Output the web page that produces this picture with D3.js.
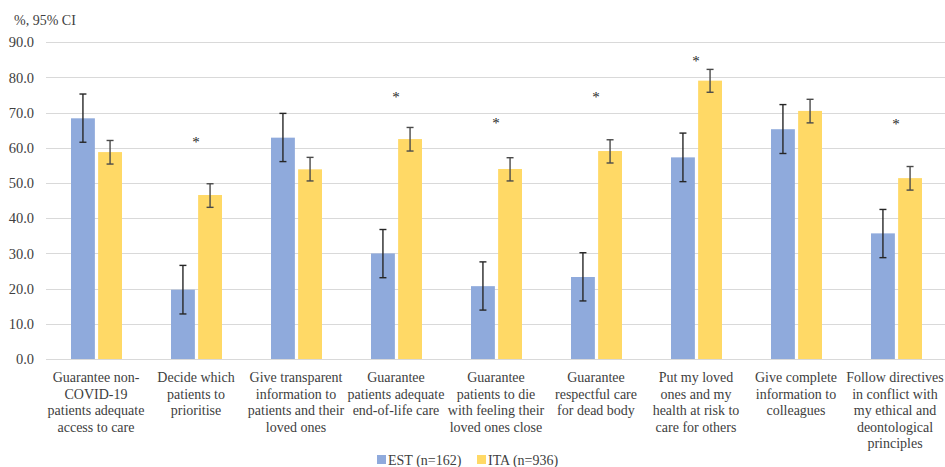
<!DOCTYPE html>
<html><head><meta charset="utf-8">
<script src="https://cdn.jsdelivr.net/npm/d3@7"></script>
<style>body{margin:0;background:#fff}svg{display:block}</style>
</head><body>
<script>
const categories = [
  ["Guarantee non-","COVID-19","patients adequate","access to care"],
  ["Decide which","patients to","prioritise"],
  ["Give transparent","information to","patients and their","loved ones"],
  ["Guarantee","patients adequate","end-of-life care"],
  ["Guarantee","patients to die","with feeling their","loved ones close"],
  ["Guarantee","respectful care","for dead body"],
  ["Put my loved","ones and my","health at risk to","care for others"],
  ["Give complete","information to","colleagues"],
  ["Follow directives","in conflict with","my ethical and","deontological","principles"]
];
const seriesNames = ["EST (n=162)", "ITA (n=936)"];
const estValues = [68.4, 19.7, 62.9, 30.0, 20.7, 23.3, 57.3, 65.3, 35.7];
const estLow    = [61.6, 12.8, 56.1, 23.1, 13.9, 16.5, 50.4, 58.4, 28.8];
const estHigh   = [75.3, 26.6, 69.8, 36.8, 27.6, 30.2, 64.2, 72.3, 42.5];
const itaValues = [58.8, 46.6, 53.9, 62.5, 54.0, 59.1, 79.1, 70.5, 51.4];
const itaLow    = [55.4, 43.1, 50.6, 59.1, 50.6, 55.7, 75.8, 67.1, 48.0];
const itaHigh   = [62.1, 49.8, 57.3, 65.8, 57.2, 62.3, 82.3, 73.8, 54.7];
const starValues = [null, 62.6, null, 75.4, 67.9, 75.4, 85.6, null, 67.7];
const yTicks = [0,10,20,30,40,50,60,70,80,90];
const yAxisTitle = "%, 95% CI";
const colors = ["#8faadc", "#ffd966"];

(function(){
const FONT = '"Liberation Serif"';
const FS = "14px";
const W = 945, H = 467;
const svg = d3.select("body").append("svg").attr("width", W).attr("height", H);
const pLeft = 46, pRight = 946, pTop = 42.3, pBottom = 359;
const y = d3.scaleLinear().domain([0, 90]).range([pBottom, pTop]);
const x = d3.scaleBand().domain(d3.range(categories.length)).range([pLeft, pRight]).paddingInner(0).paddingOuter(0);
const x1 = d3.scaleBand().domain([0,1]).range([25, 76]).paddingInner(0.12);

svg.append("g").selectAll("line").data(yTicks).join("line")
  .attr("x1", pLeft).attr("x2", pRight)
  .attr("y1", d => Math.round(y(d)) + 0.5).attr("y2", d => Math.round(y(d)) + 0.5)
  .attr("stroke", "#d9d9d9").attr("stroke-width", 1.2);

const yAxis = d3.axisLeft(y).tickValues(yTicks).tickFormat(d3.format(".1f")).tickSize(0).tickPadding(12);
const gy = svg.append("g").attr("transform", `translate(${pLeft},0)`).call(yAxis);
gy.select(".domain").remove();
gy.selectAll("text").style("font-family", FONT).style("font-size", "14.5px").style("fill", "#404040");

svg.append("text").attr("x", 14).attr("y", 25).style("font-family", FONT).style("font-size", FS).style("fill", "#404040").text(yAxisTitle);

const series = [
  {vals: estValues, lo: estLow, hi: estHigh},
  {vals: itaValues, lo: itaLow, hi: itaHigh}
];
series.forEach((s, si) => {
  const g = svg.append("g");
  g.selectAll("rect").data(s.vals).join("rect")
    .attr("x", (d, i) => x(i) + x1(si))
    .attr("width", x1.bandwidth())
    .attr("y", d => y(d))
    .attr("height", d => y(0) - y(d))
    .attr("fill", colors[si]);
  const eb = g.selectAll("g.eb").data(s.vals).join("g").attr("class", "eb")
    .attr("stroke", si === 0 ? "#262626" : "#4a4a4a").attr("stroke-width", 1.4);
  eb.each(function(d, i) {
    const cx = x(i) + x1(si) + x1.bandwidth() / 2;
    const sel = d3.select(this);
    sel.append("line").attr("x1", cx).attr("x2", cx).attr("y1", y(s.hi[i])).attr("y2", y(s.lo[i]));
    sel.append("line").attr("x1", cx - 3.5).attr("x2", cx + 3.5).attr("y1", y(s.hi[i])).attr("y2", y(s.hi[i]));
    sel.append("line").attr("x1", cx - 3.5).attr("x2", cx + 3.5).attr("y1", y(s.lo[i])).attr("y2", y(s.lo[i]));
  });
});

svg.append("g").selectAll("text").data(starValues.map((v, i) => ({v, i})).filter(d => d.v !== null)).join("text")
  .attr("x", d => x(d.i) + x.bandwidth() / 2)
  .attr("y", d => y(d.v) + 8)
  .attr("text-anchor", "middle")
  .style("font-family", FONT).style("font-size", "15px").style("fill", "#262626")
  .text("*");

const gl = svg.append("g");
categories.forEach((lines, i) => {
  const t = gl.append("text").attr("text-anchor", "middle")
    .style("font-family", FONT).style("font-size", FS).style("fill", "#404040");
  lines.forEach((ln, k) => {
    t.append("tspan").attr("x", x(i) + x.bandwidth() / 2 - (i === categories.length - 1 ? 1 : 0)).attr("y", 382 + k * 16.6).text(ln);
  });
});

const legX = [377, 477];
seriesNames.forEach((n, i) => {
  svg.append("rect").attr("x", legX[i]).attr("y", 455).attr("width", 9).attr("height", 9).attr("fill", colors[i]);
  svg.append("text").attr("x", legX[i] + 11).attr("y", 465)
    .style("font-family", FONT).style("font-size", FS).style("fill", "#404040").text(n);
});
})();
</script>
</body></html>
